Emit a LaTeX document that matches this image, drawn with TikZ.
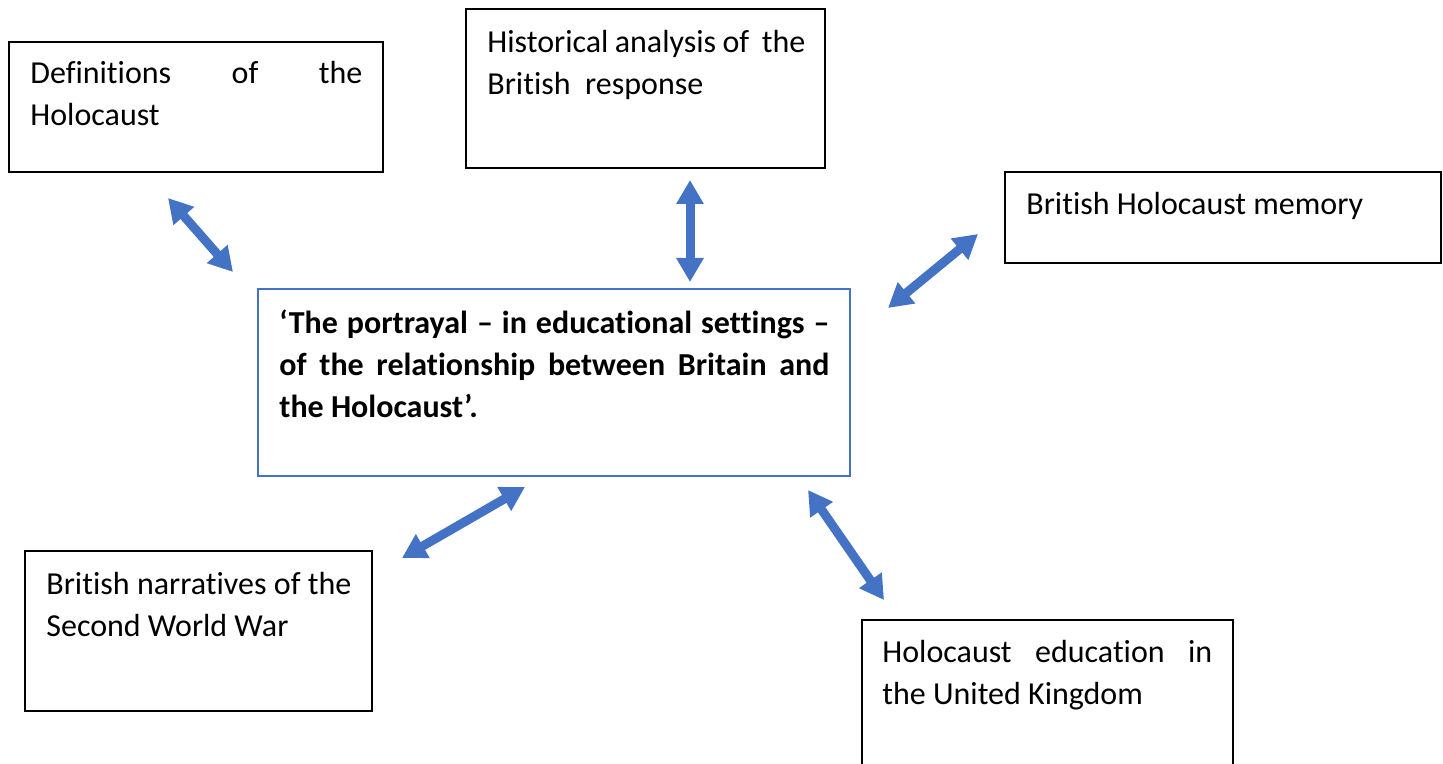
\documentclass[tikz,border=0pt]{standalone}
\usepackage{fontspec}
\setmainfont[Ligatures=NoCommon]{Carlito}
\usetikzlibrary{arrows.meta,fit}
\definecolor{arrowblue}{HTML}{4472C4}
\begin{document}
\begin{tikzpicture}[x=0.5pt,y=-0.5pt,
  box/.style={draw=black, line width=0.75pt, inner sep=0pt},
  mainbox/.style={draw=arrowblue, line width=1pt, inner sep=0pt},
  txt/.style={anchor=base west, inner sep=0pt, align=justify, font=\fontsize{16}{21}\selectfont},
  txtone/.style={anchor=base west, inner sep=0pt, font=\fontsize{16}{21}\selectfont},
  dbl/.style={draw=arrowblue, line width=4.5pt,
    {Triangle[width=13pt,length=12pt]}-{Triangle[width=13pt,length=12pt]}}]
\clip (0,0) rectangle (1443,764);
% boxes
\node[box, fit={(9,42)(383,172)}] (def) {};
\node[box, fit={(466,9)(825,168)}] (hist) {};
\node[box, fit={(1005,172)(1441,263)}] (mem) {};
\node[mainbox, fit={(258,289)(850,476)}] (main) {};
\node[box, fit={(25,551)(372,711)}] (narr) {};
\node[box, fit={(862,620)(1233,800)}] (edu) {};
% texts
\node[txt, text width=166pt] (deft) at (30,84) {Definitions of the\linebreak Holocaust};
\node[txt, text width=159pt] (histt) at (487,53) {Historical analysis of\ \ the\linebreak British\ \ response};
\node[txtone] (memt) at (1026,215) {British Holocaust memory};
\node[txt, text width=275pt, font=\fontsize{16}{21}\selectfont\bfseries] (maint) at (279,333)
  {‘The portrayal – in educational settings –\linebreak of the relationship between Britain and\linebreak the Holocaust’.};
\node[txt, text width=152.5pt] (narrt) at (46,594) {British narratives of the\linebreak Second World War};
\node[txt, text width=165pt] (edut) at (882,662) {Holocaust education in\linebreak the United Kingdom};
% arrow ends
\coordinate (a1s) at (168,198); \coordinate (a1e) at (233,272);
\coordinate (a2s) at (690,180); \coordinate (a2e) at (690,282);
\coordinate (a3s) at (978,234); \coordinate (a3e) at (888,308);
\coordinate (a4s) at (525,487); \coordinate (a4e) at (402,558);
\coordinate (a5s) at (808,490); \coordinate (a5e) at (884,600);
\draw[dbl] (a1s) -- (a1e);
\draw[dbl] (a2s) -- (a2e);
\draw[dbl] (a3s) -- (a3e);
\draw[dbl] (a4s) -- (a4e);
\draw[dbl] (a5s) -- (a5e);
\end{tikzpicture}
\end{document}
